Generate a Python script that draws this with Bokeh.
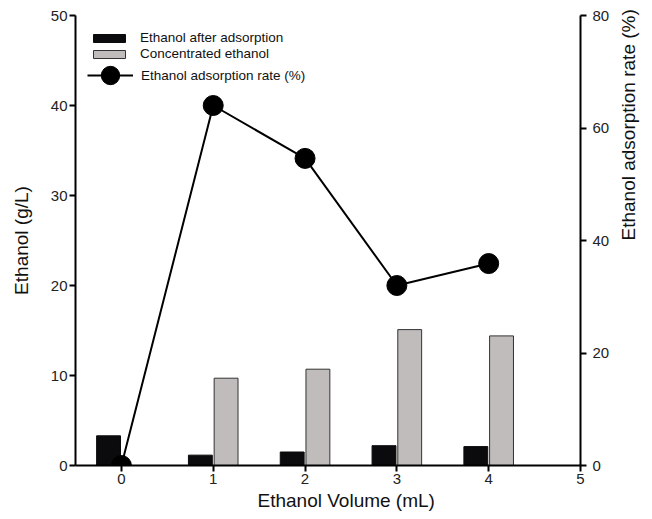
import math
from bokeh.plotting import figure
from bokeh.models import LinearAxis, Range1d, Legend, LegendItem, FixedTicker, Title
from bokeh.embed import file_html
from bokeh.resources import INLINE

volume = [0, 1, 2, 3, 4]
after_adsorption = [3.3, 1.15, 1.5, 2.2, 2.1]
conc_volume = [1, 2, 3, 4]
concentrated = [9.7, 10.7, 15.1, 14.4]
rate = [0, 64.0, 54.6, 32.0, 35.9]
x_ticks = [0, 1, 2, 3, 4, 5]
left_ticks = [0, 10, 20, 30, 40, 50]
right_ticks = [0, 20, 40, 60, 80]

FONT = "Liberation Sans"

p = figure(width=652, height=519, output_backend="svg", toolbar_location=None,
           x_range=Range1d(-0.5, 5), y_range=Range1d(0, 50))
p.min_border_left = 75
p.min_border_right = 70
p.min_border_top = 15
p.min_border_bottom = 54
p.outline_line_color = None
p.grid.visible = False
p.extra_y_ranges = {"rate": Range1d(0, 80)}

b1 = p.vbar(x=[v - 0.14 for v in volume], top=after_adsorption, width=0.26,
            fill_color="#0b0b0d", line_color="#0b0b0d", line_width=1)
b2 = p.vbar(x=[v + 0.14 for v in conc_volume], top=concentrated, width=0.26,
            fill_color="#c0bcbb", line_color="#333333", line_width=1)
ln = p.line(volume, rate, y_range_name="rate", line_color="black", line_width=2)
sc = p.scatter(volume, rate, y_range_name="rate", size=20, fill_color="black",
               line_color="black")

right = LinearAxis(y_range_name="rate", axis_label="Ethanol adsorption rate (%)")
p.add_layout(right, "right")

p.yaxis[0].axis_label = "Ethanol (g/L)"

for ax in p.xaxis + p.yaxis:
    ax.axis_line_width = 2
    ax.axis_line_color = "black"
    ax.major_tick_line_width = 2
    ax.major_tick_line_color = "black"
    ax.major_tick_out = 6
    ax.major_tick_in = 0
    ax.minor_tick_line_color = None
    ax.major_label_text_font = FONT
    ax.major_label_text_font_size = "15px"
    ax.major_label_text_color = "#222222"
    ax.axis_label_text_font = FONT
    ax.axis_label_text_font_size = "19px"
    ax.axis_label_text_font_style = "normal"
    ax.axis_label_text_color = "#111111"
    ax.major_label_standoff = 2

p.xaxis[0].ticker = FixedTicker(ticks=x_ticks)
p.yaxis[0].ticker = FixedTicker(ticks=left_ticks)
right.ticker = FixedTicker(ticks=right_ticks)
right.major_label_standoff = 6

p.yaxis[0].axis_label_standoff = 16
right.axis_label_standoff = 16
if hasattr(right, "axis_label_orientation"):
    right.axis_label_orientation = math.pi / 2

xtitle = Title(text="Ethanol Volume (mL)", align="left", offset=182, standoff=2,
               text_font=FONT, text_font_size="19px", text_font_style="normal",
               text_color="#111111")
p.add_layout(xtitle, "below")

legend = Legend(items=[
    LegendItem(label="Ethanol after adsorption", renderers=[b1]),
    LegendItem(label="Concentrated ethanol", renderers=[b2]),
], location=(14, 404))
legend2 = Legend(items=[
    LegendItem(label="Ethanol adsorption rate (%)", renderers=[ln, sc]),
], location=(12, 365))
for lg in (legend, legend2):
    lg.label_text_font = FONT
    lg.label_text_font_size = "13.5px"
    lg.label_text_color = "#111111"
    lg.background_fill_alpha = 0
    lg.border_line_color = None
    lg.padding = 0
    lg.margin = 0
legend.glyph_width = 40
legend.glyph_height = 10
legend.label_height = 10
legend.spacing = 1
legend.label_standoff = 11
legend2.glyph_width = 46
legend2.glyph_height = 50
legend2.label_height = 12
legend2.label_standoff = 8
p.add_layout(legend)
p.add_layout(legend2)

open("out.html", "w").write(file_html(p, INLINE))
